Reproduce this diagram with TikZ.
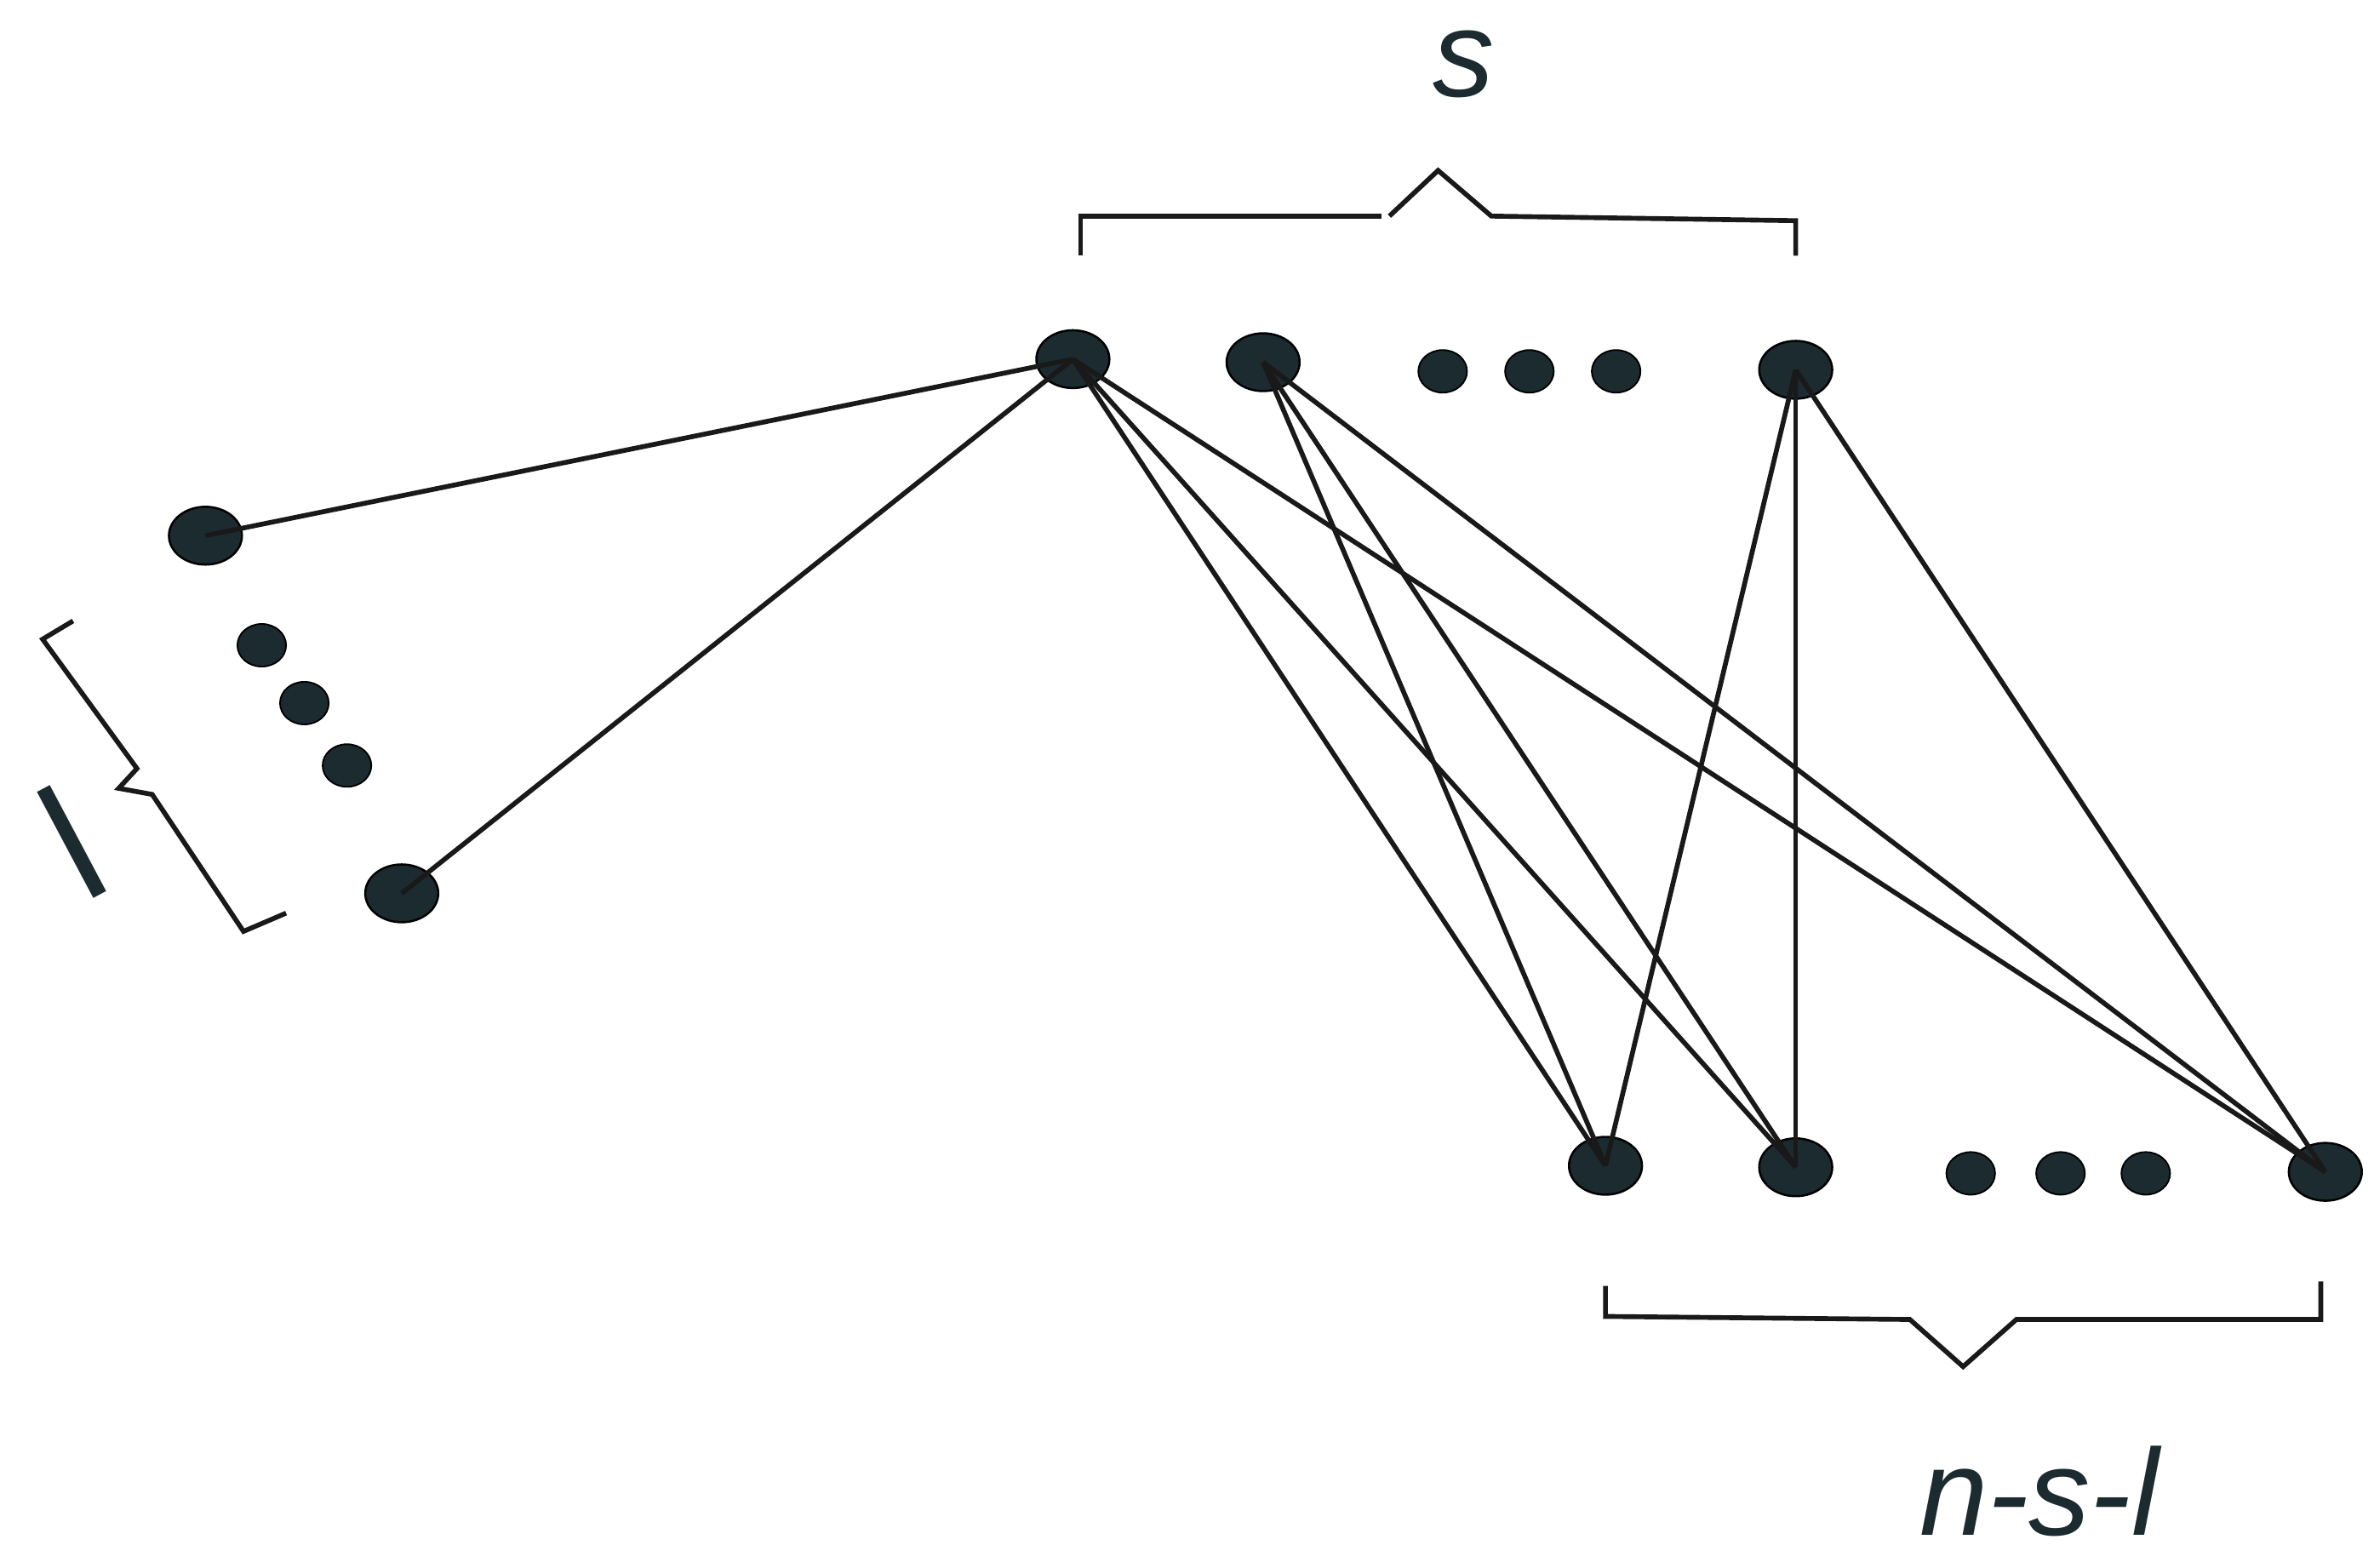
\documentclass[tikz,border=0pt]{standalone}
\usepackage{fontspec}
\setmainfont{Liberation Sans}
\usetikzlibrary{shapes.geometric}
\begin{document}
\begin{tikzpicture}[x=0.02cm,y=-0.02cm,
 big/.style={ellipse,fill=dotc,draw=black,line width=0.8pt,minimum width=0.96cm,minimum height=0.76cm,inner sep=0pt},
 small/.style={ellipse,fill=dotc,draw=black,line width=0.6pt,minimum width=0.64cm,minimum height=0.56cm,inner sep=0pt},
 edge/.style={line width=1.8pt,draw=black!90},
 brace/.style={line width=1.8pt,draw=black!90},
 lab/.style={text=dotc,font=\itshape\fontsize{46}{50}\selectfont}]
\definecolor{dotc}{HTML}{1C2B30}
\useasboundingbox (0,0) rectangle (1560,1030);
\node[big] (L1) at (135,352) {};
\node[small] (l1) at (172,424) {};
\node[small] (l2) at (200,462) {};
\node[small] (l3) at (228,503) {};
\node[big] (L2) at (264,587) {};
\node[big] (T1) at (705,236) {};
\node[big] (T2) at (830,238) {};
\node[small] (t1) at (948,244) {};
\node[small] (t2) at (1005,244) {};
\node[small] (t3) at (1062,244) {};
\node[big] (T3) at (1180,243) {};
\node[big] (B1) at (1055,766) {};
\node[big] (B2) at (1180,767) {};
\node[small] (b1) at (1295,771) {};
\node[small] (b2) at (1354,771) {};
\node[small] (b3) at (1410,771) {};
\node[big] (B3) at (1528,770) {};
\foreach \a/\b in {L1/T1,L2/T1,T1/B1,T1/B2,T1/B3,T2/B1,T2/B2,T2/B3,T3/B1,T3/B2,T3/B3}
  \draw[edge] (\a.center) -- (\b.center);
\draw[brace] (710,168) -- (710,142) -- (908,142);
\draw[brace] (913,142) -- (945,112) -- (980,142) -- (1180,145) -- (1180,168);
\draw[brace] (1055,845) -- (1055,865) -- (1255,867) -- (1290,898) -- (1325,867) -- (1525,867) -- (1525,842);
\draw[brace] (48,408) -- (28,420) -- (90,505) -- (78,518) -- (100,522) -- (160,612) -- (188,600);
\node[lab] (s) at (962,42) {s};
\node[lab] (n) at (1340,980) {n-s-l};
\node[text=dotc,font=\fontsize{62}{70}\selectfont,rotate=28] (l) at (47,553) {l};
\end{tikzpicture}
\end{document}
